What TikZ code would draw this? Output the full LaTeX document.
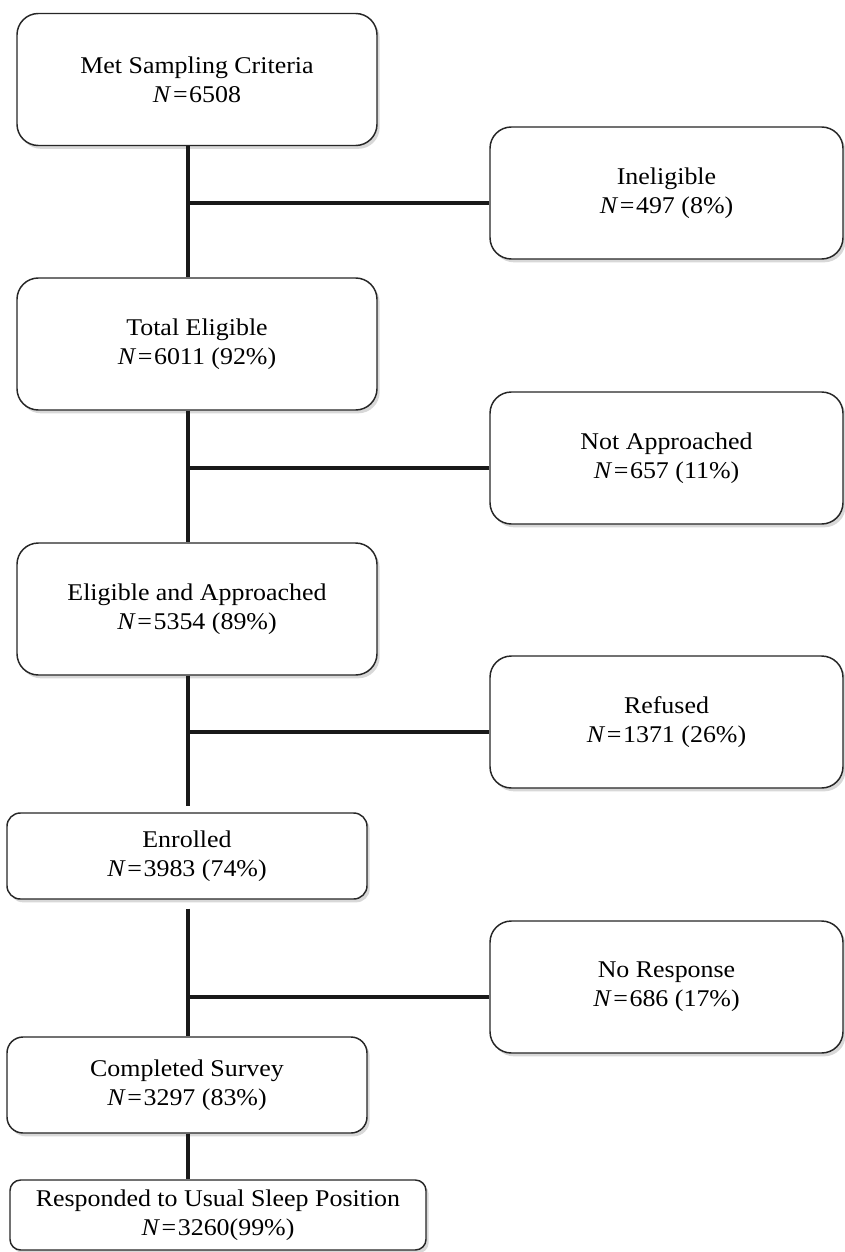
\documentclass[tikz,border=0pt]{standalone}
\usepackage{fontspec}
\setmainfont{Liberation Serif}[FakeStretch=1.08]
\usetikzlibrary{positioning}
\usetikzlibrary{shadows}
\tikzset{flowbox/.style={rectangle,rounded corners=16pt,draw=black!85,line width=1.1pt,fill=white,
drop shadow={shadow xshift=2pt,shadow yshift=-2.5pt,fill=black!30,opacity=0.5},
align=center,inner sep=2pt,minimum height=99pt, minimum width=270pt,
font=\fontsize{18}{21.75}\selectfont}}
\tikzset{flowboxsmall/.style={flowbox,rounded corners=10pt,minimum height=64.5pt}}
\tikzset{sidebox/.style={flowbox,minimum width=264.75pt}}
\tikzset{trunk/.style={draw=black!90,line width=3pt}}
\newcommand{\Neq}{\textit{N}\kern1.2pt=\kern1.2pt}

\begin{document}
\begin{tikzpicture}[x=0.75pt,y=-0.75pt]
        \useasboundingbox (0,0) rectangle (844,1252);
        \coordinate (spine) at (188,0);

        \node[flowbox] (boxCrit) at (197,79.5) {Met Sampling Criteria\\\Neq6508};
        \node[flowbox] (boxElig) at (197,344) {Total Eligible\\\Neq6011 (92\%)};
        \node[flowbox] (boxAppr) at (197,609) {Eligible and Approached\\\Neq5354 (89\%)};
        \node[flowboxsmall] (boxEnrol) at (187,856) {Enrolled\\\Neq3983 (74\%)};
        \node[flowbox,rounded corners=12pt,minimum height=72pt] (boxCompl) at (187,1085) {Completed Survey\\\Neq3297 (83\%)};
        \node[flowbox,rounded corners=8pt,minimum height=52.5pt,minimum width=312pt] (boxResp) at (218,1215) {Responded to Usual Sleep Position\\\Neq3260(99\%)};

        \node[sidebox] (boxInelig) at (666.5,193) {Ineligible\\\Neq497 (8\%)};
        \node[sidebox] (boxNotAppr) at (666.5,458) {Not Approached\\\Neq657 (11\%)};
        \node[sidebox] (boxRefus) at (666.5,722) {Refused\\\Neq1371 (26\%)};
        \node[sidebox] (boxNoResp) at (666.5,987) {No Response\\\Neq686 (17\%)};

        \draw[trunk] (boxCrit.south -| spine) -- (boxElig.north -| spine);
        \draw[trunk] (boxElig.south -| spine) -- (boxAppr.north -| spine);
        \draw[trunk,shorten >=4.5pt] (boxAppr.south -| spine) -- (boxEnrol.north -| spine);
        \draw[trunk,shorten <=6.75pt] (boxEnrol.south -| spine) -- (boxCompl.north -| spine);
        \draw[trunk] (boxCompl.south -| spine) -- (boxResp.north -| spine);

        \coordinate (jInelig) at ([yshift=-7.5pt]boxInelig.west);
        \coordinate (jNotAppr) at ([yshift=-7.5pt]boxNotAppr.west);
        \coordinate (jRefus) at ([yshift=-7.5pt]boxRefus.west);
        \coordinate (jNoResp) at ([yshift=-7.5pt]boxNoResp.west);
        \draw[trunk] (jInelig -| spine) -- (jInelig);
        \draw[trunk] (jNotAppr -| spine) -- (jNotAppr);
        \draw[trunk] (jRefus -| spine) -- (jRefus);
        \draw[trunk] (jNoResp -| spine) -- (jNoResp);
\end{tikzpicture}
\end{document}
